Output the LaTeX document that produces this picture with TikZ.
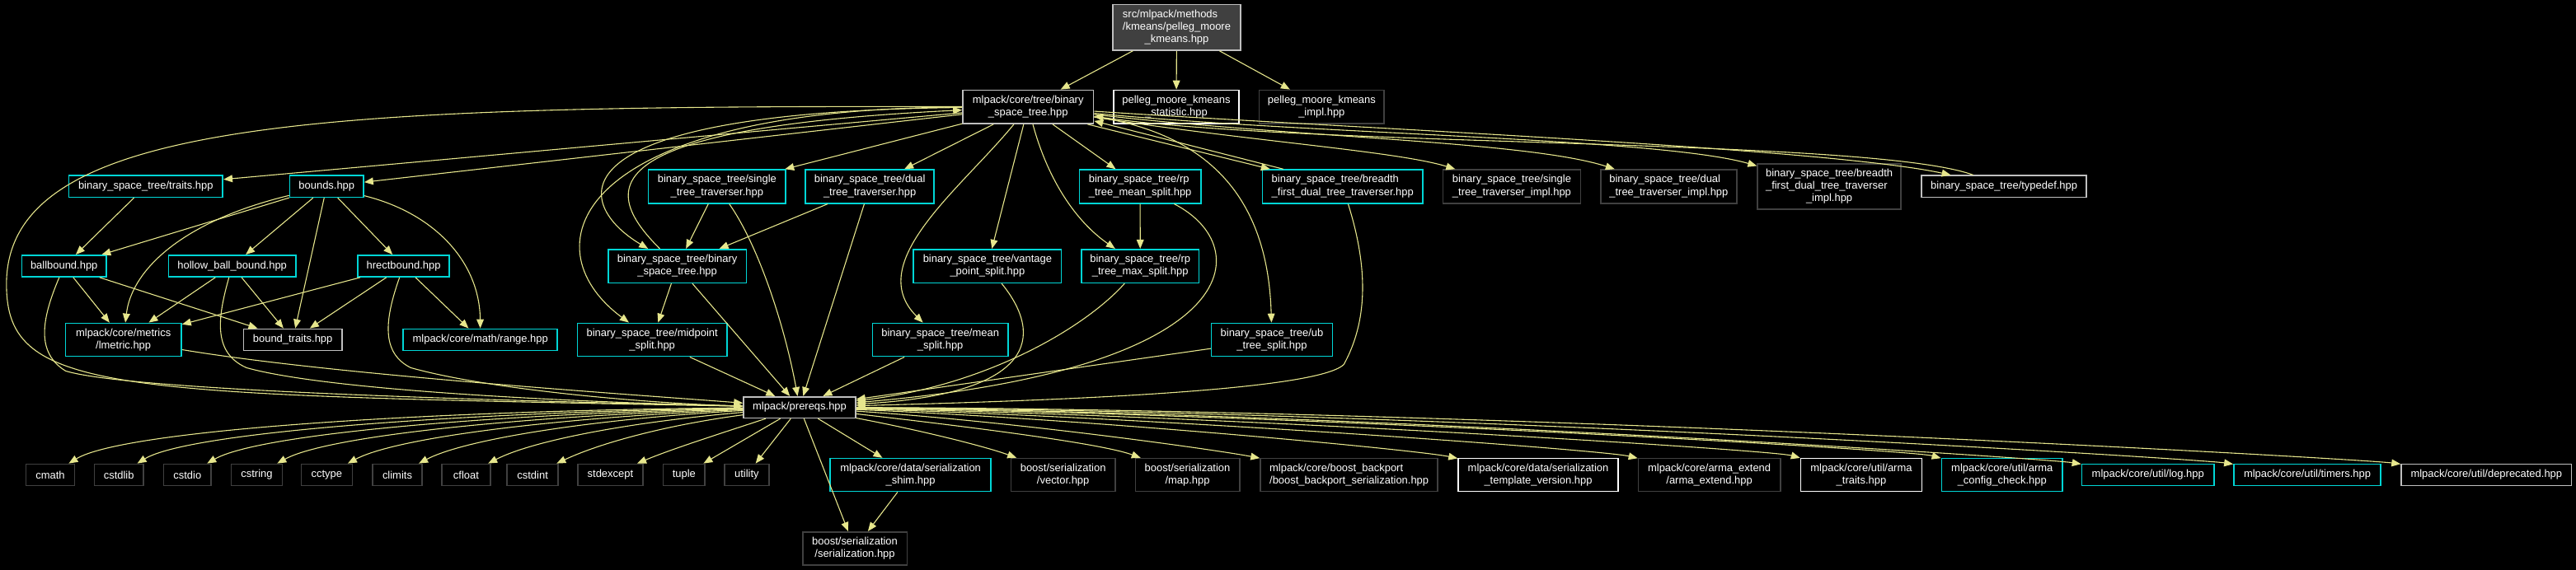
\documentclass[tikz,border=0pt]{standalone}
\usepackage{fontspec}
\newfontfamily\incfont{Liberation Sans}
\usetikzlibrary{arrows.meta}
\definecolor{incedge}{RGB}{230,230,140}
\definecolor{inccyan}{RGB}{0,214,214}
\definecolor{inclight}{RGB}{191,191,191}
\definecolor{incdark}{RGB}{64,64,64}
\tikzset{
  inc node/.style={
    rectangle,draw,fill=black,text=white,inner sep=0pt,line width=0.8pt,
    font={\incfont\fontsize{6.5}{7.6}\selectfont}
  },
  inc doc/.style={inc node,draw=inccyan},
  inc file/.style={inc node,draw=white},
  inc main/.style={inc node,draw=inclight},
  inc ext/.style={inc node,draw=incdark},
  inc root/.style={inc node,draw=inclight,fill=incdark},
  inc edge/.style={incedge,line width=0.55pt,-{Triangle[length=5.5pt,width=4.4pt]}}
}
% box given by its left, right, top and bottom edge
\newcommand{\incbox}[7]{%
  \node[#1,minimum width={#4pt-#3pt},minimum height={#6pt-#5pt}]
    (#2) at ({(#3+#4)/2},{(#5+#6)/2}) {#7};%
}
\newcommand{\lns}[2]{%
  \begin{tabular}{@{}l@{}}#1\\\multicolumn{1}{@{}c@{}}{#2}\end{tabular}%
}

\begin{document}
\begin{tikzpicture}[x=1pt,y=-1pt]
  \fill[black] (0,0) rectangle (1568,347);
  \useasboundingbox (0,0) rectangle (1568,347);

  \incbox{inc root}{src}{677.4}{755.1}{2.8}{30.6}{\lns{src/mlpack/methods\\/kmeans/pelleg\_moore}{\_kmeans.hpp}}
  \incbox{inc main}{bst}{586}{665.6}{54.9}{75.3}{\lns{mlpack/core/tree/binary}{\_space\_tree.hpp}}
  \incbox{inc file}{stat}{678}{754}{54.9}{75.3}{\lns{pelleg\_moore\_kmeans}{\_statistic.hpp}}
  \incbox{inc ext}{kimpl}{766.5}{842.5}{54.9}{75.3}{\lns{pelleg\_moore\_kmeans}{\_impl.hpp}}

  \incbox{inc doc}{trt}{41.8}{135.6}{107}{120.1}{binary\_space\_tree/traits.hpp}
  \incbox{inc doc}{bnd}{176.4}{221.3}{107}{120.1}{bounds.hpp}
  \incbox{inc doc}{stt}{394.7}{478.2}{103.4}{123.8}{\lns{binary\_space\_tree/single}{\_tree\_traverser.hpp}}
  \incbox{inc doc}{dtt}{490.3}{568.6}{103.4}{123.8}{\lns{binary\_space\_tree/dual}{\_tree\_traverser.hpp}}
  \incbox{inc doc}{rpm}{657}{731}{103.4}{123.8}{\lns{binary\_space\_tree/rp}{\_tree\_mean\_split.hpp}}
  \incbox{inc doc}{bft}{768.5}{866}{103.4}{123.8}{\lns{binary\_space\_tree/breadth}{\_first\_dual\_tree\_traverser.hpp}}
  \incbox{inc ext}{stti}{878.3}{962.1}{103.4}{123.8}{\lns{binary\_space\_tree/single}{\_tree\_traverser\_impl.hpp}}
  \incbox{inc ext}{dtti}{974.4}{1057.1}{103.4}{123.8}{\lns{binary\_space\_tree/dual}{\_tree\_traverser\_impl.hpp}}
  \incbox{inc ext}{bfti}{1069.8}{1157.1}{100}{127.4}{\lns{binary\_space\_tree/breadth\\\_first\_dual\_tree\_traverser}{\_impl.hpp}}
  \incbox{inc main}{tdef}{1169.7}{1270}{107}{120.1}{binary\_space\_tree/typedef.hpp}

  \incbox{inc doc}{bb}{13.2}{64.8}{155.5}{168.6}{ballbound.hpp}
  \incbox{inc doc}{hbb}{102.7}{180}{155.5}{168.6}{hollow\_ball\_bound.hpp}
  \incbox{inc doc}{hrb}{217.7}{273.6}{155.5}{168.6}{hrectbound.hpp}
  \incbox{inc doc}{bstb}{370.2}{454.3}{151.9}{172.3}{\lns{binary\_space\_tree/binary}{\_space\_tree.hpp}}
  \incbox{inc doc}{vps}{556}{646.1}{151.9}{172.3}{\lns{binary\_space\_tree/vantage}{\_point\_split.hpp}}
  \incbox{inc doc}{rpx}{658.2}{729.9}{151.9}{172.3}{\lns{binary\_space\_tree/rp}{\_tree\_max\_split.hpp}}

  \incbox{inc doc}{lmt}{39.8}{110.4}{196.9}{217.1}{\lns{mlpack/core/metrics}{/lmetric.hpp}}
  \incbox{inc main}{btr}{148.3}{208.1}{200.4}{213.4}{bound\_traits.hpp}
  \incbox{inc doc}{rng}{245.5}{339.3}{200.4}{213.4}{mlpack/core/math/range.hpp}
  \incbox{inc doc}{mps}{351.5}{442.5}{196.9}{217.1}{\lns{binary\_space\_tree/midpoint}{\_split.hpp}}
  \incbox{inc doc}{msp}{531.2}{613.5}{196.9}{217.1}{\lns{binary\_space\_tree/mean}{\_split.hpp}}
  \incbox{inc doc}{ubs}{737.4}{811}{196.9}{217.1}{\lns{binary\_space\_tree/ub}{\_tree\_split.hpp}}

  \incbox{inc main}{pre}{452.6}{520.8}{241.7}{254.6}{mlpack/prereqs.hpp}

  \incbox{inc ext}{cmath}{15.8}{45.4}{282.7}{295.7}{cmath}
  \incbox{inc ext}{cstdlib}{57.4}{87.3}{282.7}{295.7}{cstdlib}
  \incbox{inc ext}{cstdio}{99.6}{128.5}{282.7}{295.7}{cstdio}
  \incbox{inc ext}{cstring}{140.8}{171.8}{282.7}{295.7}{cstring}
  \incbox{inc ext}{cctype}{183.4}{214.4}{282.7}{295.7}{cctype}
  \incbox{inc ext}{climits}{226.7}{257}{282.7}{295.7}{climits}
  \incbox{inc ext}{cfloat}{268.9}{298.5}{282.7}{295.7}{cfloat}
  \incbox{inc ext}{cstdint}{308.7}{339.7}{282.7}{295.7}{cstdint}
  \incbox{inc ext}{stdexc}{351.6}{391.4}{282.7}{295.7}{stdexcept}
  \incbox{inc ext}{tuple}{403.7}{429.1}{282.7}{295.7}{tuple}
  \incbox{inc ext}{utility}{441}{468.1}{282.7}{295.7}{utility}
  \incbox{inc doc}{shim}{505.4}{603.1}{279.3}{299.4}{\lns{mlpack/core/data/serialization}{\_shim.hpp}}
  \incbox{inc ext}{vec}{615.4}{678.8}{279.3}{299.4}{\lns{boost/serialization}{/vector.hpp}}
  \incbox{inc ext}{map}{691.1}{754.5}{279.3}{299.4}{\lns{boost/serialization}{/map.hpp}}
  \incbox{inc ext}{bkp}{767.2}{875.2}{279.3}{299.4}{\lns{mlpack/core/boost\_backport}{/boost\_backport\_serialization.hpp}}
  \incbox{inc file}{tmv}{887.6}{985}{279.3}{299.4}{\lns{mlpack/core/data/serialization}{\_template\_version.hpp}}
  \incbox{inc ext}{axt}{997.2}{1083.7}{279.3}{299.4}{\lns{mlpack/core/arma\_extend}{/arma\_extend.hpp}}
  \incbox{inc file}{atr}{1096.1}{1169.8}{279.3}{299.4}{\lns{mlpack/core/util/arma}{\_traits.hpp}}
  \incbox{inc doc}{acc}{1181.8}{1255.5}{279.3}{299.4}{\lns{mlpack/core/util/arma}{\_config\_check.hpp}}
  \incbox{inc doc}{log}{1267.2}{1347.7}{282.7}{295.7}{mlpack/core/util/log.hpp}
  \incbox{inc doc}{tmr}{1359.7}{1449.2}{282.7}{295.7}{mlpack/core/util/timers.hpp}
  \incbox{inc main}{dep}{1461.6}{1565.3}{282.7}{295.7}{mlpack/core/util/deprecated.hpp}
  \incbox{inc ext}{bser}{488.6}{552.1}{324}{344.2}{\lns{boost/serialization}{/serialization.hpp}}

  \draw[inc edge] (src) -- (bst);
  \draw[inc edge] (src) -- (stat);
  \draw[inc edge] (src) -- (kimpl);

  \draw[inc edge] (bst) -- (trt);
  \draw[inc edge] (bst) -- (bnd);
  \draw[inc edge] (bst) -- (stt);
  \draw[inc edge] (bst) -- (dtt);
  \draw[inc edge] (bst) -- (rpm);
  \draw[inc edge] (bst) -- (vps);
  \draw[inc edge] ([xshift=-4pt]bst.south east) -- ([xshift=5pt]bft.north west);
  \draw[inc edge] ([xshift=13pt]bft.north west) -- ([yshift=2pt]bst.south east);
  \draw[inc edge] (bst) .. controls (760,86) and (850,92) .. (stti);
  \draw[inc edge] (bst) .. controls (790,84) and (930,86) .. (dtti);
  \draw[inc edge] (bst) .. controls (800,82) and (1010,84) .. (bfti);
  \draw[inc edge] (bst) .. controls (820,78) and (1110,90) .. (tdef);
  \draw[inc edge] (tdef) .. controls (1140,84) and (800,90) .. (bst);
  \draw[inc edge] (bst) .. controls (330,68) and (350,125) .. (bstb);
  \draw[inc edge] (bstb) .. controls (365,115) and (360,78) .. (bst);
  \draw[inc edge] (bst) .. controls (350,66) and (320,150) .. (mps);
  \draw[inc edge] (bst) .. controls (585,115) and (525,160) .. (msp);
  \draw[inc edge] (bst) .. controls (638,110) and (655,135) .. (rpx);
  \draw[inc edge] (bst) .. controls (740,82) and (772,125) .. (ubs);
  \draw[inc edge] (bst) .. controls (200,64) and (8,72) .. (4,170)
    .. controls (2,240) and (60,240) .. (pre);

  \draw[inc edge] (trt) -- (bb);
  \draw[inc edge] (bnd) -- (bb);
  \draw[inc edge] (bnd) .. controls (110,135) and (80,165) .. (lmt);
  \draw[inc edge] (bnd) -- (hbb);
  \draw[inc edge] (bnd) -- (btr);
  \draw[inc edge] (bnd) -- (hrb);
  \draw[inc edge] (bnd) .. controls (265,130) and (292,160) .. (rng);
  \draw[inc edge] (bb) -- (lmt);
  \draw[inc edge] (bb) -- (btr);
  \draw[inc edge] (hbb) -- (lmt);
  \draw[inc edge] (hbb) -- (btr);
  \draw[inc edge] (hrb) -- (lmt);
  \draw[inc edge] (hrb) -- (btr);
  \draw[inc edge] (hrb) -- (rng);

  \draw[inc edge] (stt) -- (bstb);
  \draw[inc edge] (dtt) -- (bstb);
  \draw[inc edge] (bstb) -- (mps);
  \draw[inc edge] (rpm) -- (rpx);

  \draw[inc edge] (bb) .. controls (25,195) and (22,215) .. (40,226)
    .. controls (80,238) and (300,244) .. (pre);
  \draw[inc edge] (hbb) .. controls (132,195) and (130,215) .. (150,224)
    .. controls (200,238) and (350,245) .. (pre);
  \draw[inc edge] (hrb) .. controls (234,195) and (232,215) .. (250,224)
    .. controls (300,238) and (400,246) .. (pre);
  \draw[inc edge] (lmt) .. controls (200,228) and (380,240) .. (pre);
  \draw[inc edge] (mps) -- (pre);
  \draw[inc edge] (bstb) -- (pre);
  \draw[inc edge] (stt) .. controls (462,150) and (478,200) .. (pre);
  \draw[inc edge] (dtt) -- (pre);
  \draw[inc edge] (msp) -- (pre);
  \draw[inc edge] (vps) .. controls (636,205) and (630,240) .. (pre);
  \draw[inc edge] (rpx) .. controls (660,200) and (600,235) .. (pre);
  \draw[inc edge] (rpm) .. controls (765,150) and (760,225) .. (pre);
  \draw[inc edge] (ubs) -- (pre);
  \draw[inc edge] (bft) .. controls (835,170) and (830,200) .. (818,222)
    .. controls (800,240) and (600,245) .. (pre);

  \draw[inc edge] (pre) .. controls (260,250) and (75,262) .. (cmath);
  \draw[inc edge] (pre) .. controls (285,251) and (115,263) .. (cstdlib);
  \draw[inc edge] (pre) .. controls (305,252) and (158,264) .. (cstdio);
  \draw[inc edge] (pre) .. controls (325,253) and (200,265) .. (cstring);
  \draw[inc edge] (pre) .. controls (345,254) and (242,266) .. (cctype);
  \draw[inc edge] (pre) .. controls (365,255) and (284,267) .. (climits);
  \draw[inc edge] (pre) .. controls (385,257) and (325,268) .. (cfloat);
  \draw[inc edge] (pre) .. controls (405,259) and (365,270) .. (cstdint);
  \draw[inc edge] (pre) .. controls (445,262) and (410,273) .. (stdexc);
  \draw[inc edge] (pre) -- (tuple);
  \draw[inc edge] (pre) -- (utility);
  \draw[inc edge] (pre) -- (bser);
  \draw[inc edge] (pre) -- (shim);
  \draw[inc edge] (shim) -- (bser);
  \draw[inc edge] (pre) .. controls (560,262) and (600,272) .. (vec);
  \draw[inc edge] (pre) .. controls (590,260) and (670,270) .. (map);
  \draw[inc edge] (pre) .. controls (620,257) and (740,274) .. (bkp);
  \draw[inc edge] (pre) .. controls (660,255) and (862,274) .. (tmv);
  \draw[inc edge] (pre) .. controls (700,254) and (975,274) .. (axt);
  \draw[inc edge] (pre) .. controls (740,253) and (1078,274) .. (atr);
  \draw[inc edge] (pre) .. controls (780,252) and (1163,274) .. (acc);
  \draw[inc edge] (pre) .. controls (820,251) and (1247,279.5) .. (log);
  \draw[inc edge] (pre) .. controls (860,250) and (1337,279.5) .. (tmr);
  \draw[inc edge] (pre) .. controls (900,249) and (1436,279.5) .. (dep);
\end{tikzpicture}
\end{document}
